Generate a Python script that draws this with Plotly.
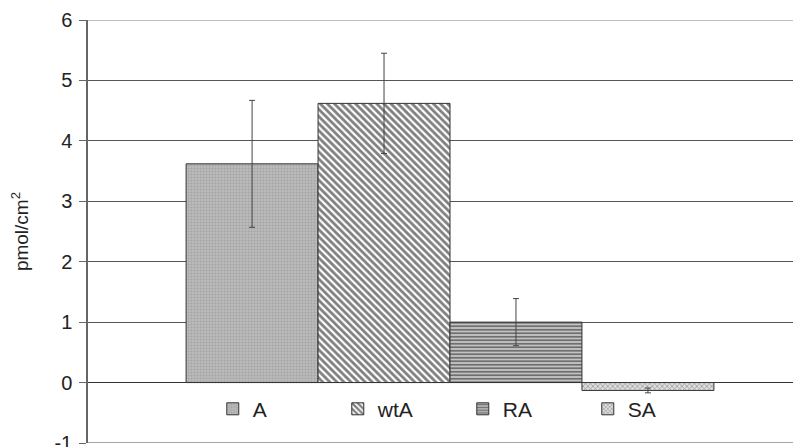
import plotly.graph_objects as go

series = ["A", "wtA", "RA", "SA"]
values = [3.62, 4.62, 1.0, -0.13]
errors = [1.05, 0.83, 0.39, 0.04]
category = [""]
tick_vals = [-1, 0, 1, 2, 3, 4, 5, 6]
tick_text = ["-1", "0", "1", "2", "3", "4", "5", "6"]

patterns = [
    dict(shape=".", bgcolor="#bababa", fgcolor="#8c8c8c", size=3, solidity=0.35),
    dict(shape="\\", bgcolor="#ffffff", fgcolor="#000000", size=5, solidity=0.55),
    dict(shape="-", bgcolor="#cccccc", fgcolor="#111111", size=3.5, solidity=0.55),
    dict(shape="x", bgcolor="#e0e0e0", fgcolor="#505050", size=3.5, solidity=0.4),
]

fig = go.Figure()
for name, v, e, p in zip(series, values, errors, patterns):
    fig.add_trace(go.Bar(
        x=category, y=[v], name=name,
        marker=dict(color=p["bgcolor"], pattern=p, line=dict(color="#333333", width=1)),
        error_y=dict(type="data", array=[e], visible=True, color="#444444", thickness=1, width=3),
    ))

# page body has an 8px default margin, so the figure is 8px smaller and shifted
fig.update_layout(
    width=793, height=439,
    margin=dict(l=80, r=0, t=12, b=4),
    paper_bgcolor="white", plot_bgcolor="white",
    barmode="group", bargap=0.271, bargroupgap=0,
    font=dict(family="Liberation Sans, Arial, sans-serif", color="#222222"),
    showlegend=True,
    legend=dict(orientation="h", x=0.175, xanchor="left", y=0.08, yanchor="middle",
                font=dict(size=21, color="#222222"), entrywidth=80, entrywidthmode="pixels",
                bgcolor="rgba(0,0,0,0)", traceorder="normal"),
    xaxis=dict(range=[-0.5, 0.4848], showticklabels=False, showgrid=False, zeroline=False,
               showline=False, fixedrange=True, automargin=False),
    yaxis=dict(range=[-1, 6], tickmode="array", tickvals=tick_vals, ticktext=tick_text,
               showgrid=True, gridcolor="#555555", gridwidth=1.3,
               zeroline=True, zerolinecolor="#333333", zerolinewidth=1.3,
               showline=True, linecolor="#666666", linewidth=1.5,
               ticks="outside", ticklen=7, tickcolor="#666666", ticklabeloverflow="allow",
               ticklabelstandoff=3,
               tickfont=dict(size=20, color="#222222"), automargin=False,
               title=dict(text="pmol/cm<sup>2</sup>", font=dict(size=19, color="#222222"), standoff=28)),
)
fig.add_shape(type="line", xref="paper", yref="y", x0=0, x1=1, y0=-1, y1=-1,
              line=dict(color="#888888", width=1.5))
fig.add_shape(type="line", xref="paper", yref="y", x0=0, x1=1, y0=6, y1=6,
              line=dict(color="#aaaaaa", width=1.5), layer="below")

fig.write_html("out.html")
